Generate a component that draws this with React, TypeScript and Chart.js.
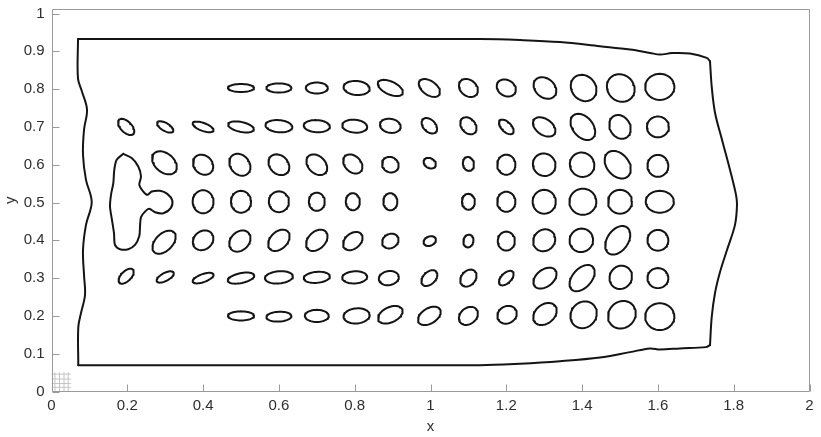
import React, { useEffect, useRef } from 'react';
import { Chart, registerables } from 'chart.js';

Chart.register(...registerables);

// ---- axis ticks ----
const xTicks = [0, 0.2, 0.4, 0.6, 0.8, 1, 1.2, 1.4, 1.6, 1.8, 2];
const xTickLabels = ['0', '0.2', '0.4', '0.6', '0.8', '1', '1.2', '1.4', '1.6', '1.8', '2'];
const yTicks = [0, 0.1, 0.2, 0.3, 0.4, 0.5, 0.6, 0.7, 0.8, 0.9, 1];
const yTickLabels = ['0', '0.1', '0.2', '0.3', '0.4', '0.5', '0.6', '0.7', '0.8', '0.9', '1'];
const xTitle = 'x';
const yTitle = 'y';

// ---- outer contour (closed) ----
const outerX = [
  0.0699, 0.6557, 1.1306, 1.2361, 1.3417, 1.4472, 1.5264, 1.5792, 1.6055, 1.6372, 1.6847, 1.7288, 1.7375,
  1.742, 1.7507, 1.7691, 1.7902, 1.8061, 1.8087, 1.8034, 1.7823, 1.7639, 1.7507, 1.742, 1.7375, 1.7269,
  1.6583, 1.6055, 1.5792, 1.5264, 1.4472, 1.3417, 1.2361, 1.1306, 0.6557, 0.0707,
  0.0707, 0.0778, 0.0884, 0.0858, 0.0831, 0.091, 0.1061, 0.091, 0.0831, 0.0858, 0.0937, 0.0805, 0.0699, 0.0699,
];
const outerY = [
  0.9324, 0.9324, 0.9324, 0.9298, 0.9245, 0.9133, 0.9046, 0.8958, 0.8913, 0.8953, 0.894, 0.8826, 0.8736,
  0.8065, 0.7376, 0.6661, 0.5865, 0.5203, 0.4938, 0.4408, 0.3745, 0.3162, 0.2606, 0.1969, 0.1227, 0.1174,
  0.114, 0.1113, 0.114, 0.1042, 0.0901, 0.0803, 0.0737, 0.0697, 0.0697, 0.0697,
  0.1704, 0.2075, 0.2552, 0.3082, 0.3745, 0.4408, 0.5017, 0.56, 0.6263, 0.6925, 0.7456, 0.7933, 0.8277, 0.9324,
];
// indices of the sharp corners of the outer contour
const outerCorners = [0, 12, 24, 35, 49];

// ---- three-lobed contour at x≈0.2, y≈0.5 (closed) ----
const lobeX = [
  0.1894, 0.2116, 0.229, 0.2361, 0.2317, 0.2422, 0.2528, 0.2644, 0.2863, 0.3055, 0.3187, 0.3145, 0.295,
  0.2731, 0.258, 0.2467, 0.2361, 0.2335, 0.2317, 0.2203, 0.2026, 0.1807, 0.1675, 0.1649, 0.1588, 0.1544,
  0.157, 0.1631, 0.1657, 0.172, 0.1894,
];
const lobeY = [
  0.6289, 0.6175, 0.5953, 0.5688, 0.5468, 0.529, 0.5203, 0.529, 0.5309, 0.5229, 0.5052, 0.485, 0.4718,
  0.4744, 0.4832, 0.476, 0.4612, 0.4363, 0.4116, 0.3878, 0.3764, 0.3764, 0.3878, 0.4188, 0.4585, 0.4893,
  0.5203, 0.5513, 0.5865, 0.613, 0.6289,
];

// ---- small closed contours: centre, major / minor diameter, tilt (deg) ----
const blobCx = [
  0.5, 0.6, 0.7, 0.805, 0.894, 0.997, 1.1, 1.2, 1.302, 1.404, 1.502, 1.605,
  0.197, 0.3, 0.4, 0.5, 0.6, 0.7, 0.8, 0.894, 0.997, 1.1, 1.2, 1.3, 1.402, 1.5, 1.6,
  0.298, 0.4, 0.497, 0.6, 0.7, 0.795, 0.894, 0.998, 1.1, 1.2, 1.3, 1.4, 1.494, 1.6,
  0.4, 0.5, 0.6, 0.7, 0.795, 0.894, 1.1, 1.2, 1.3, 1.402, 1.5, 1.605,
  0.297, 0.4, 0.497, 0.6, 0.7, 0.795, 0.894, 0.998, 1.1, 1.2, 1.3, 1.398, 1.494, 1.6,
  0.197, 0.3, 0.4, 0.5, 0.6, 0.7, 0.8, 0.89, 0.997, 1.1, 1.2, 1.302, 1.4, 1.502, 1.6,
  0.5, 0.6, 0.7, 0.805, 0.894, 0.997, 1.1, 1.202, 1.302, 1.404, 1.505, 1.605,
];
const blobCy = [
  0.803, 0.803, 0.803, 0.803, 0.803, 0.803, 0.803, 0.803, 0.803, 0.803, 0.803, 0.806,
  0.7, 0.7, 0.7, 0.7, 0.702, 0.702, 0.702, 0.703, 0.703, 0.703, 0.7, 0.7, 0.7, 0.7, 0.7,
  0.605, 0.6, 0.6, 0.6, 0.6, 0.602, 0.6, 0.604, 0.602, 0.6, 0.6, 0.6, 0.6, 0.597,
  0.502, 0.502, 0.502, 0.502, 0.502, 0.502, 0.502, 0.502, 0.502, 0.502, 0.502, 0.502,
  0.395, 0.4, 0.398, 0.4, 0.4, 0.398, 0.398, 0.398, 0.398, 0.398, 0.4, 0.4, 0.4, 0.4,
  0.305, 0.303, 0.3, 0.3, 0.302, 0.302, 0.302, 0.3, 0.3, 0.3, 0.3, 0.3, 0.3, 0.302, 0.3,
  0.2, 0.198, 0.2, 0.2, 0.203, 0.2, 0.2, 0.203, 0.205, 0.203, 0.203, 0.198,
];
const blobMajor = [
  0.069, 0.066, 0.058, 0.069, 0.071, 0.063, 0.055, 0.053, 0.066, 0.074, 0.077, 0.077,
  0.053, 0.048, 0.058, 0.069, 0.071, 0.069, 0.066, 0.055, 0.048, 0.05, 0.048, 0.066, 0.079, 0.066, 0.058,
  0.074, 0.058, 0.063, 0.061, 0.063, 0.058, 0.045, 0.034, 0.037, 0.053, 0.061, 0.066, 0.082, 0.058,
  0.061, 0.058, 0.055, 0.048, 0.045, 0.045, 0.042, 0.053, 0.063, 0.071, 0.063, 0.074,
  0.074, 0.058, 0.063, 0.066, 0.066, 0.058, 0.045, 0.034, 0.034, 0.05, 0.061, 0.063, 0.084, 0.055,
  0.05, 0.05, 0.058, 0.071, 0.074, 0.069, 0.066, 0.053, 0.05, 0.05, 0.048, 0.069, 0.082, 0.063, 0.055,
  0.069, 0.066, 0.063, 0.069, 0.069, 0.066, 0.055, 0.053, 0.069, 0.074, 0.077, 0.077,
];
const blobMinor = [
  0.021, 0.024, 0.029, 0.037, 0.034, 0.037, 0.042, 0.042, 0.05, 0.063, 0.069, 0.069,
  0.029, 0.021, 0.021, 0.026, 0.032, 0.032, 0.034, 0.037, 0.032, 0.037, 0.026, 0.042, 0.053, 0.053, 0.055,
  0.05, 0.048, 0.05, 0.048, 0.045, 0.042, 0.04, 0.026, 0.029, 0.048, 0.058, 0.063, 0.058, 0.055,
  0.055, 0.053, 0.053, 0.042, 0.037, 0.037, 0.034, 0.048, 0.061, 0.069, 0.063, 0.058,
  0.045, 0.048, 0.048, 0.045, 0.045, 0.04, 0.037, 0.024, 0.026, 0.045, 0.055, 0.061, 0.055, 0.055,
  0.026, 0.021, 0.021, 0.026, 0.032, 0.029, 0.032, 0.037, 0.032, 0.037, 0.026, 0.045, 0.05, 0.058, 0.053,
  0.024, 0.026, 0.032, 0.04, 0.04, 0.04, 0.042, 0.045, 0.05, 0.066, 0.069, 0.071,
];
const blobTilt = [
  0, 0, 0, -5, -25, -35, -40, -30, -40, -50, -45, 0,
  -45, -30, -20, -12, -5, -3, -5, -10, -45, -50, -45, -35, -50, -60, 0,
  -40, -45, -50, -45, -45, -45, -30, -30, -80, 90, -45, -45, -50, 90,
  90, 90, 90, 90, 90, 90, 90, 90, 90, 0, 0, 0,
  45, 40, 45, 45, 45, 40, 30, 25, 75, 90, 45, 45, 55, 0,
  45, 28, 20, 12, 5, 5, 3, 10, 45, 50, 45, 38, 48, 60, 0,
  0, 3, 0, 5, 25, 32, 40, 30, 40, 50, 45, 0,
];

// ---- faint grid glyph in the lower-left corner ----
const glyphX = [0.009, 0.021, 0.033, 0.044];
const glyphY = [0.011, 0.021, 0.033, 0.046];
const glyphExtent = [0, 0.05];

const LINE = '#141414';

function ellipsePoints(cx: number, cy: number, major: number, minor: number, tiltDeg: number) {
  const pts: { x: number; y: number }[] = [];
  const t = (tiltDeg * Math.PI) / 180;
  const n = 48;
  for (let i = 0; i <= n; i++) {
    const a = (i / n) * 2 * Math.PI;
    const u = (major / 2) * Math.cos(a);
    const v = (minor / 2) * Math.sin(a);
    pts.push({ x: cx + u * Math.cos(t) - v * Math.sin(t), y: cy + u * Math.sin(t) + v * Math.cos(t) });
  }
  return pts;
}

const framePlugin = {
  id: 'frame',
  afterDatasetsDraw(chart: any) {
    const { ctx, chartArea, scales } = chart;
    const { left, right, top, bottom } = chartArea;
    ctx.save();
    ctx.strokeStyle = '#9a9a9a';
    ctx.lineWidth = 1;
    const l = Math.round(left) + 0.5;
    const r = Math.round(right) - 0.5;
    const t = Math.round(top) + 0.5;
    const b = Math.round(bottom) - 0.5;
    ctx.beginPath();
    ctx.rect(l, t, r - l, b - t);
    for (const v of xTicks) {
      const px = Math.round(scales.x.getPixelForValue(v)) + 0.5;
      ctx.moveTo(px, b);
      ctx.lineTo(px, b - 7);
    }
    for (const v of yTicks) {
      const py = Math.round(scales.y.getPixelForValue(v)) + 0.5;
      ctx.moveTo(l, py);
      ctx.lineTo(l + 7, py);
    }
    ctx.stroke();
    ctx.restore();
  },
};

export default function App() {
  const ref = useRef<HTMLCanvasElement | null>(null);

  useEffect(() => {
    document.body.style.margin = '0';
    const canvas = ref.current;
    if (!canvas) return;

    const datasets: any[] = [];
    const lineDs = (data: { x: number; y: number }[], color: string, width: number, tension = 0) => ({
      data,
      showLine: true,
      borderColor: color,
      borderWidth: width,
      borderCapStyle: 'round',
      borderJoinStyle: 'round',
      pointRadius: 0,
      pointHoverRadius: 0,
      fill: false,
      tension,
    });

    for (const gx of glyphX) {
      datasets.push(lineDs(glyphExtent.map((gy) => ({ x: gx, y: gy })), '#c4c4c4', 1));
    }
    for (const gy of glyphY) {
      datasets.push(lineDs(glyphExtent.map((gx) => ({ x: gx, y: gy })), '#c4c4c4', 1));
    }

    const outerPts = outerX.map((x, i) => ({ x, y: outerY[i] }));
    for (let s = 0; s < outerCorners.length - 1; s++) {
      datasets.push(lineDs(outerPts.slice(outerCorners[s], outerCorners[s + 1] + 1), LINE, 2, 0.35));
    }
    datasets.push(lineDs(lobeX.map((x, i) => ({ x, y: lobeY[i] })), LINE, 2, 0.3));
    for (let i = 0; i < blobCx.length; i++) {
      datasets.push(lineDs(ellipsePoints(blobCx[i], blobCy[i], blobMajor[i], blobMinor[i], blobTilt[i]), LINE, 2));
    }

    const tickFont = { family: '"Liberation Sans", Arial, Helvetica, sans-serif', size: 15 };

    const chart = new Chart(canvas, {
      type: 'scatter',
      data: { datasets },
      plugins: [framePlugin],
      options: {
        animation: false,
        responsive: false,
        devicePixelRatio: 1,
        events: [],
        layout: { padding: { top: 9, right: 11.5, left: 0, bottom: 0 } },
        plugins: { legend: { display: false }, tooltip: { enabled: false } },
        scales: {
          x: {
            type: 'linear',
            min: 0,
            max: 2,
            afterBuildTicks: (s: any) => {
              s.ticks = xTicks.map((v) => ({ value: v }));
            },
            afterFit: (s: any) => {
              s.height = 45.5;
              s.paddingLeft = 0;
              s.paddingRight = 0;
            },
            grid: { display: false, drawTicks: false },
            border: { display: false },
            ticks: {
              autoSkip: false,
              maxRotation: 0,
              padding: 5,
              color: '#2e2e2e',
              font: tickFont,
              callback: (_v: any, i: number) => xTickLabels[i],
            },
            title: { display: true, text: xTitle, color: '#2e2e2e', font: tickFont, padding: { top: 0, bottom: 1 } },
          },
          y: {
            type: 'linear',
            min: 0,
            max: 1.012,
            afterBuildTicks: (s: any) => {
              s.ticks = yTicks.map((v) => ({ value: v }));
            },
            afterFit: (s: any) => {
              s.width = 51.5;
              s.paddingTop = 0;
              s.paddingBottom = 0;
            },
            grid: { display: false, drawTicks: false },
            border: { display: false },
            ticks: {
              autoSkip: false,
              padding: 7,
              color: '#2e2e2e',
              font: tickFont,
              callback: (_v: any, i: number) => yTickLabels[i],
            },
            title: { display: true, text: yTitle, color: '#2e2e2e', font: tickFont, padding: { top: 2, bottom: 2 } },
          },
        },
      },
    } as any);

    return () => chart.destroy();
  }, []);

  return (
    <div style={{ position: 'fixed', left: 0, top: 0, width: 821, height: 437, background: '#fff' }}>
      <canvas ref={ref} width={821} height={437} style={{ display: 'block', width: 821, height: 437 }} />
    </div>
  );
}
